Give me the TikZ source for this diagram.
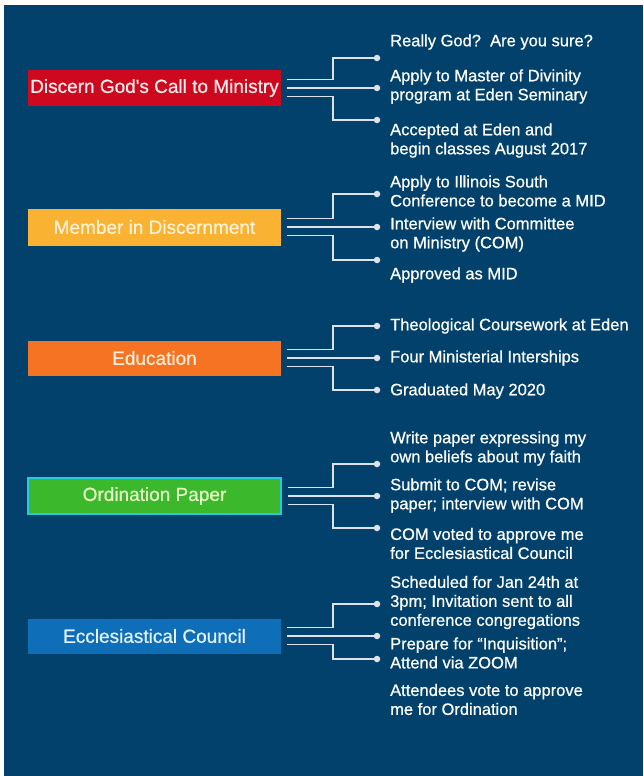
\documentclass[tikz,border=0pt]{standalone}
\usepackage{fontspec}
\setmainfont{Liberation Sans}
\newfontfamily\heavyfont{Liberation Sans}[FakeBold=0.7]
\usepackage{tikz}
\usetikzlibrary{calc}
\definecolor{navy}{RGB}{1,65,108}
\definecolor{linkgrey}{RGB}{222,226,236}
\definecolor{callred}{RGB}{206,8,30}
\definecolor{midyellow}{RGB}{250,178,50}
\definecolor{eduorange}{RGB}{245,115,35}
\definecolor{papergreen}{RGB}{60,184,44}
\definecolor{papercyan}{RGB}{40,200,225}
\definecolor{councilblue}{RGB}{14,110,184}

\begin{document}
\begin{tikzpicture}[x=1pt,y=-1pt,
	stage/.style={minimum width=253pt,minimum height=35pt,inner sep=0pt,font=\heavyfont\fontsize{19}{22}\selectfont},
	item/.style={anchor=west,align=left,inner sep=0pt,text=white,font=\heavyfont\fontsize{16.5}{19}\selectfont},
	dot/.style={circle,fill=linkgrey,inner sep=0pt,minimum size=6.5pt},
	link/.style={draw=linkgrey,line width=1.6pt}]
\useasboundingbox (0,0) rectangle (643,776);
\fill[white] (0,0) rectangle (643,776);
\fill[navy] (4,5) rectangle (643,776);
% stages
\node[stage,fill=callred,text={rgb,255:red,255;green,236;blue,236}] (disc) at (154.5,88) {Discern God's Call to Ministry};
\node[stage,fill=midyellow,minimum height=37pt,text={rgb,255:red,255;green,242;blue,215}] (mid) at (154.5,227) {Member in Discernment};
\node[stage,fill=eduorange,text={rgb,255:red,255;green,238;blue,215}] (edu) at (154.5,358) {Education};
\node[stage,fill=papergreen,draw=papercyan,line width=1.5pt,minimum height=36pt,text={rgb,255:red,232;green,255;blue,200}] (paper) at (154.5,496) {Ordination Paper};
\node[stage,fill=councilblue,text={rgb,255:red,228;green,242;blue,255}] (council) at (154.5,636) {Ecclesiastical Council};
% dots
\node[dot] (disc-a) at (377,58) {};
\node[dot] (disc-b) at (377,88) {};
\node[dot] (disc-c) at (377,120) {};
\node[dot] (mid-a) at (377,194) {};
\node[dot] (mid-b) at (377,227) {};
\node[dot] (mid-c) at (377,260) {};
\node[dot] (edu-a) at (377,326) {};
\node[dot] (edu-b) at (377,358) {};
\node[dot] (edu-c) at (377,390) {};
\node[dot] (paper-a) at (377,464) {};
\node[dot] (paper-b) at (377,496) {};
\node[dot] (paper-c) at (377,528) {};
\node[dot] (council-a) at (377,604) {};
\node[dot] (council-b) at (377,636) {};
\node[dot] (council-c) at (377,659) {};
% connectors
\foreach \s in {disc,mid,edu,paper,council}{
	\draw[link] ([xshift=6pt,yshift=8.5pt]\s.east) -| ([xshift=-44pt]\s-a.center) -- (\s-a);
	\draw[link] ([xshift=6pt]\s.east) -- (\s-b);
	\draw[link] ([xshift=6pt,yshift=-8.5pt]\s.east) -| ([xshift=-44pt]\s-c.center) -- (\s-c);}
% items
\node[item] (disc-t1) at (390,42) {Really God?\ \ Are you sure?};
\node[item] (disc-t2) at (390,86.5) {Apply to Master of Divinity\\program at Eden Seminary};
\node[item] (disc-t3) at (390,140.5) {Accepted at Eden and\\begin classes August 2017};
\node[item] (mid-t1) at (390,191) {Apply to Illinois South\\Conference to become a MID};
\node[item] (mid-t2) at (390,234.5) {Interview with Committee\\on Ministry (COM)};
\node[item] (mid-t3) at (390,275) {Approved as MID};
\node[item] (edu-t1) at (390,326) {Theological Coursework at Eden};
\node[item] (edu-t2) at (390,358) {Four Ministerial Interships};
\node[item] (edu-t3) at (390,391) {Graduated May 2020};
\node[item] (paper-t1) at (390,448.5) {Write paper expressing my\\own beliefs about my faith};
\node[item] (paper-t2) at (390,495.5) {Submit to COM; revise\\paper; interview with COM};
\node[item] (paper-t3) at (390,543.5) {COM voted to approve me\\for Ecclesiastical Council};
\node[item] (council-t1) at (390,602.5) {Scheduled for Jan 24th at\\3pm; Invitation sent to all\\conference congregations};
\node[item] (council-t2) at (390,653) {Prepare for “Inquisition”;\\Attend via ZOOM};
\node[item] (council-t3) at (390,699.5) {Attendees vote to approve\\me for Ordination};
\end{tikzpicture}
\end{document}
